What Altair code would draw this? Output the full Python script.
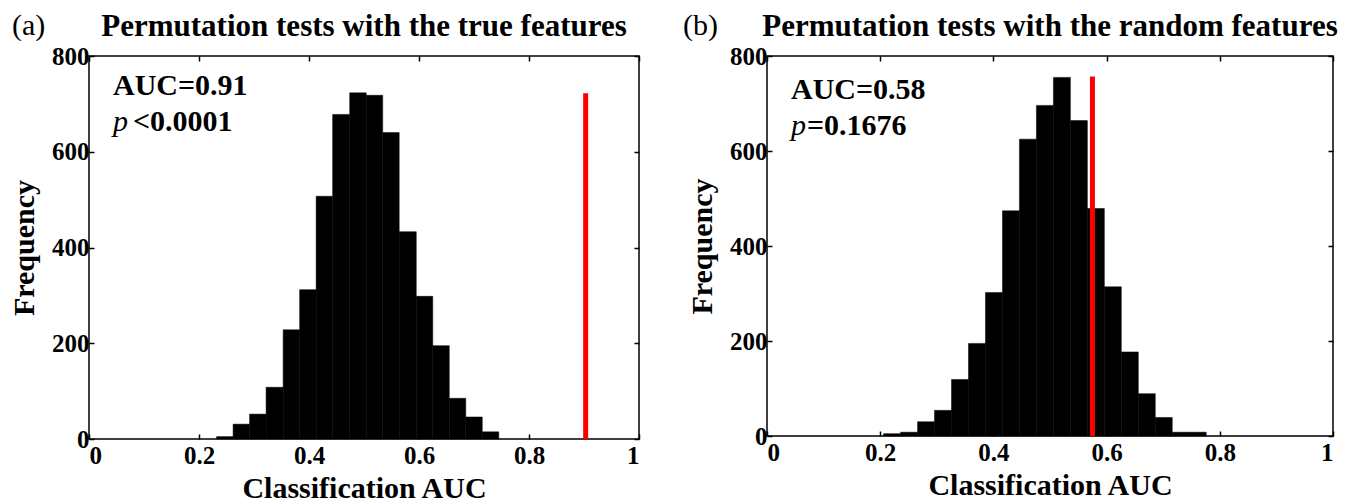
import altair as alt
import pandas as pd

FONT = "Liberation Serif"

x_ticks = [0, 0.2, 0.4, 0.6, 0.8, 1]
y_ticks = [0, 200, 400, 600, 800]

# Panel (a): permutation tests with the true features
a_bin_start = [0.232, 0.262, 0.292, 0.322, 0.353, 0.383, 0.413, 0.443, 0.474,
               0.504, 0.534, 0.564, 0.595, 0.625, 0.655, 0.685, 0.715]
a_bin_end = [0.262, 0.292, 0.322, 0.353, 0.383, 0.413, 0.443, 0.474, 0.504,
             0.534, 0.564, 0.595, 0.625, 0.655, 0.685, 0.715, 0.745]
a_counts = [5, 31, 52, 108, 228, 312, 507, 678, 723, 718, 640, 433, 298, 195, 85, 46, 15]
a_auc = [0.903]
a_auc_top = [722]

# Panel (b): permutation tests with the random features
b_bin_start = [0.206, 0.236, 0.266, 0.296, 0.326, 0.356, 0.386, 0.416, 0.446, 0.476,
               0.506, 0.536, 0.566, 0.596, 0.626, 0.656, 0.686, 0.716, 0.746]
b_bin_end = [0.236, 0.266, 0.296, 0.326, 0.356, 0.386, 0.416, 0.446, 0.476, 0.506,
             0.536, 0.566, 0.596, 0.626, 0.656, 0.686, 0.716, 0.746, 0.776]
b_counts = [5, 8, 30, 54, 119, 195, 302, 474, 625, 696, 755, 664, 479, 314, 177, 89, 39, 8, 8]
b_auc = [0.575]
b_auc_top = [757]


def panel(starts, ends, counts, auc, auc_top, title, tag, auc_text, p_text,
          width, height, tag_dx, ann_dx, ann_dy, p_gap):
    xs = alt.Scale(domain=[0, 1], nice=False, zero=False)
    ys = alt.Scale(domain=[0, 800], nice=False)
    common = dict(grid=False, domain=False, tickColor="black", tickWidth=1.5,
                  tickSize=5, offset=-5, labelFont=FONT, labelFontSize=25,
                  labelFontWeight="bold", labelColor="black", titleFont=FONT,
                  titleFontSize=30, titleFontWeight="bold", titleColor="black")
    ax_bottom = alt.Axis(values=x_ticks, format="~g", labelPadding=4,
                         titlePadding=5, **common)
    ax_left = alt.Axis(values=y_ticks, labelPadding=0, titlePadding=12, **common)
    hidden = dict(grid=False, domain=False, tickColor="black", tickWidth=1.5,
                  tickSize=5, offset=-5, labels=False, title=None)
    ax_top = alt.Axis(values=x_ticks, orient="top", **hidden)
    ax_right = alt.Axis(values=y_ticks, orient="right", **hidden)

    df = pd.DataFrame({"start": starts, "end": ends, "count": counts,
                       "base": [0] * len(counts)})
    bars = alt.Chart(df).mark_bar(color="black", stroke="black",
                                  strokeWidth=0.5).encode(
        x=alt.X("start:Q", scale=xs, axis=ax_bottom, title="Classification AUC"),
        x2="end:Q",
        y=alt.Y("count:Q", scale=ys, axis=ax_left, title="Frequency"),
        y2="base:Q",
    )
    ldf = pd.DataFrame({"auc": auc, "top": auc_top, "base": [0] * len(auc)})
    red = alt.Chart(ldf).mark_rule(color="#ff0000", strokeWidth=5).encode(
        x=alt.X("auc:Q", scale=xs, axis=ax_top),
        y=alt.Y("top:Q", scale=ys, axis=ax_right),
        y2="base:Q",
    )

    def txt(s, x, y, size, weight="normal", style="normal", align="left",
            baseline="alphabetic"):
        return alt.Chart(pd.DataFrame({"t": [s]})).mark_text(
            font=FONT, fontSize=size, fontWeight=weight, fontStyle=style,
            align=align, baseline=baseline, color="black").encode(
            x=alt.value(x), y=alt.value(y), text="t:N")

    t_title = txt(title, width / 2, -20, 31, weight="bold", align="center")
    t_tag = txt(tag, tag_dx, -21, 30)
    t_auc = txt(auc_text, ann_dx, ann_dy, 30, weight="bold", baseline="middle")
    t_p = txt("p", ann_dx, ann_dy + 36, 30, style="italic", baseline="middle")
    t_pv = txt(p_text, ann_dx + p_gap, ann_dy + 36, 30, weight="bold",
               baseline="middle")

    return alt.layer(bars, red, t_title, t_tag, t_auc, t_p, t_pv).resolve_axis(
        x="independent", y="independent"
    ).properties(width=width, height=height)


pa = panel(a_bin_start, a_bin_end, a_counts, a_auc, a_auc_top,
           "Permutation tests with the true features", "(a)", "AUC=0.91",
           "<0.0001", 550, 383, -77, 24, 30, 20)
pb = panel(b_bin_start, b_bin_end, b_counts, b_auc, b_auc_top,
           "Permutation tests with the random features", "(b)", "AUC=0.58",
           "=0.1676", 566, 380, -84, 24, 34, 16)

chart = alt.hconcat(pa, pb, spacing=41).properties(
    padding={"top": 2, "left": 0, "right": 0, "bottom": 0}
).configure(
    background="white",
    view=alt.ViewConfig(stroke="black", strokeWidth=1.5),
)

chart.save("out.html", embed_options={"renderer": "svg", "actions": False})
